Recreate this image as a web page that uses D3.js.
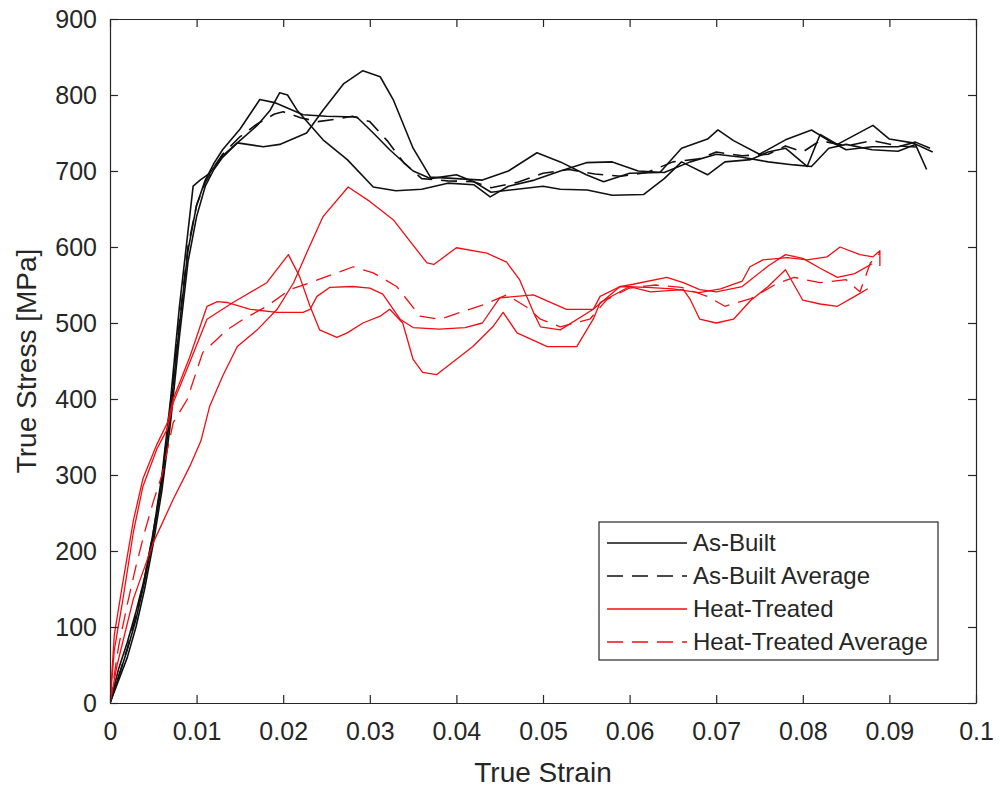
<!DOCTYPE html>
<html>
<head>
<meta charset="utf-8">
<script src="https://cdn.jsdelivr.net/npm/d3@7"></script>
<style>
  body { margin: 0; background: #fff; }
  svg { display: block; font-family: "Liberation Sans", Arial, sans-serif; }
  .axis path, .axis line { stroke: #262626; stroke-width: 1.2; }
  .axis text { fill: #262626; font-size: 25px; }
  .line { fill: none; stroke-linejoin: round; }
</style>
</head>
<body>
<svg id="chart" width="1000" height="788"></svg>
<script>

// [true strain, true stress MPa]
const asBuilt1 = [[0,0],[0.001,45],[0.002,80],[0.003,120],[0.004,165],[0.005,225],[0.006,300],[0.007,400],[0.008,520],[0.009,620],[0.0096,680],[0.0104,688],[0.0115,697],[0.013,720],[0.015,740],[0.017,760],[0.0185,780],[0.0196,803],[0.0205,800],[0.0216,780],[0.0246,741],[0.0274,715],[0.0304,679],[0.033,674],[0.036,676],[0.039,684],[0.042,682],[0.0439,666],[0.046,680],[0.049,688],[0.052,700],[0.055,711],[0.058,712],[0.061,700],[0.064,698],[0.067,712],[0.070,722],[0.073,718],[0.076,712],[0.079,708],[0.081,706],[0.083,730],[0.085,735],[0.088,728],[0.091,726],[0.093,735],[0.0943,702]];

const asBuilt2 = [[0,0],[0.001,30],[0.002,60],[0.003,100],[0.004,150],[0.005,210],[0.006,280],[0.007,370],[0.008,480],[0.009,580],[0.010,640],[0.011,680],[0.012,702],[0.013,718],[0.0147,737],[0.0177,732],[0.0196,735],[0.0227,750],[0.0246,780],[0.027,815],[0.0292,832],[0.0312,824],[0.0327,794],[0.035,730],[0.037,692],[0.040,690],[0.043,688],[0.046,700],[0.0493,724],[0.052,712],[0.055,695],[0.057,686],[0.060,697],[0.0635,698],[0.066,730],[0.069,742],[0.0702,754],[0.072,740],[0.075,722],[0.078,741],[0.081,754],[0.083,740],[0.085,728],[0.088,732],[0.091,732],[0.093,738],[0.0947,730]];

const asBuilt3 = [[0,0],[0.001,35],[0.002,70],[0.003,110],[0.004,160],[0.005,220],[0.006,290],[0.007,385],[0.008,495],[0.009,595],[0.010,655],[0.011,688],[0.012,710],[0.013,728],[0.015,755],[0.0173,794],[0.019,790],[0.0223,774],[0.025,772],[0.0285,771],[0.0304,750],[0.0323,728],[0.035,700],[0.037,690],[0.040,695],[0.042,686],[0.044,672],[0.047,676],[0.050,680],[0.052,676],[0.0551,675],[0.058,668],[0.0616,669],[0.064,690],[0.066,712],[0.069,695],[0.071,712],[0.074,715],[0.076,725],[0.078,730],[0.0805,706],[0.082,748],[0.084,735],[0.0881,760],[0.090,742],[0.0927,737],[0.095,725]];

const asBuiltAvg = [[0,0],[0.001,35],[0.002,72],[0.003,115],[0.004,165],[0.005,225],[0.006,295],[0.007,395],[0.008,500],[0.009,600],[0.010,655],[0.011,685],[0.012,705],[0.013,722],[0.015,745],[0.017,762],[0.019,775],[0.020,778],[0.022,770],[0.024,765],[0.026,768],[0.028,772],[0.030,765],[0.032,740],[0.034,710],[0.036,690],[0.039,687],[0.042,686],[0.044,678],[0.047,685],[0.050,697],[0.053,702],[0.056,696],[0.059,693],[0.062,698],[0.065,712],[0.068,716],[0.070,725],[0.073,720],[0.076,722],[0.078,733],[0.080,725],[0.082,740],[0.085,733],[0.088,740],[0.091,733],[0.094,731]];

const heatTreated1 = [[0,0],[0.0008,49],[0.0027,137],[0.005,211],[0.0073,268],[0.0092,311],[0.0105,345],[0.0115,390],[0.013,430],[0.0147,469],[0.017,491],[0.0193,518],[0.0212,553],[0.0227,592],[0.0246,640],[0.0275,679],[0.030,660],[0.0327,636],[0.0366,579],[0.0374,577],[0.040,599],[0.0435,592],[0.0458,580],[0.0473,557],[0.0489,514],[0.0497,495],[0.052,491],[0.0558,518],[0.0589,548],[0.062,547],[0.065,545],[0.068,540],[0.0705,545],[0.073,555],[0.0739,574],[0.0754,583],[0.0782,586],[0.0805,583],[0.0828,587],[0.0843,600],[0.0866,590],[0.0881,587],[0.0889,595],[0.0889,575]];

const heatTreated2 = [[0,0],[0.0005,70],[0.0015,137],[0.0027,225],[0.0038,285],[0.0054,334],[0.0066,360],[0.0073,395],[0.0092,448],[0.0112,505],[0.0142,527],[0.0181,553],[0.0206,590],[0.0219,561],[0.0231,522],[0.0242,491],[0.0262,481],[0.0274,487],[0.0292,500],[0.0312,509],[0.0323,518],[0.0338,500],[0.035,452],[0.0361,435],[0.0377,432],[0.0419,469],[0.0442,495],[0.0454,514],[0.047,487],[0.0505,469],[0.0539,469],[0.0558,505],[0.0566,527],[0.060,548],[0.0624,541],[0.0662,544],[0.067,531],[0.0681,505],[0.070,500],[0.072,505],[0.074,530],[0.076,548],[0.078,570],[0.080,530],[0.082,525],[0.084,522],[0.086,535],[0.0875,545]];

const heatTreated3 = [[0,0],[0.0005,90],[0.0015,160],[0.0027,240],[0.0038,295],[0.0054,340],[0.0066,368],[0.0073,400],[0.0092,455],[0.0112,522],[0.0124,528],[0.0135,527],[0.0162,518],[0.0193,514],[0.0223,514],[0.0231,518],[0.0239,535],[0.0254,547],[0.028,548],[0.030,546],[0.0315,538],[0.0335,505],[0.035,494],[0.038,492],[0.041,494],[0.043,500],[0.045,533],[0.0489,537],[0.0527,518],[0.0558,518],[0.0566,535],[0.0589,548],[0.0604,551],[0.0643,560],[0.0662,553],[0.0681,544],[0.070,541],[0.073,548],[0.076,575],[0.078,590],[0.080,585],[0.082,572],[0.084,560],[0.086,565],[0.088,578]];

const heatTreatedAvg = [[0,0],[0.001,75],[0.002,130],[0.003,180],[0.004,225],[0.005,265],[0.006,300],[0.0073,369],[0.0089,399],[0.0107,461],[0.0135,491],[0.0154,505],[0.0181,522],[0.0208,544],[0.0231,553],[0.0281,574],[0.0304,566],[0.0331,548],[0.0358,509],[0.0381,505],[0.0431,524],[0.0458,537],[0.0481,521],[0.0497,505],[0.052,495],[0.0554,505],[0.0574,531],[0.060,546],[0.063,550],[0.066,547],[0.069,535],[0.071,522],[0.074,532],[0.077,552],[0.079,560],[0.082,553],[0.085,557],[0.0866,541],[0.0878,579],[0.0889,592]];

const xTicks = [0, 0.01, 0.02, 0.03, 0.04, 0.05, 0.06, 0.07, 0.08, 0.09, 0.1];
const yTicks = [0, 100, 200, 300, 400, 500, 600, 700, 800, 900];

const legendLabels = ["As-Built", "As-Built Average", "Heat-Treated", "Heat-Treated Average"];

const stressChart = function(){

    const render = function(target_id){
        let svg = d3.select('#'+target_id);
        let left = 110, right = 976, top = 19, bottom = 703;

        var xScale = d3.scaleLinear().domain([0, 0.1]).range([left, right]);
        var yScale = d3.scaleLinear().domain([0, 900]).range([bottom, top]);

        svg.append("rect").attr("width", 1000).attr("height", 788).attr("fill", "#fff");

        svg.append("clipPath").attr("id", "plotclip")
            .append("rect")
            .attr("x", left).attr("y", top)
            .attr("width", right - left).attr("height", bottom - top);

        var dline = d3.line()
            .x(function(d){ return xScale(d[0]) })
            .y(function(d){ return yScale(d[1]) });

        let series = [
            {data: asBuilt1, color: "#111", dash: null},
            {data: asBuilt2, color: "#111", dash: null},
            {data: asBuilt3, color: "#111", dash: null},
            {data: asBuiltAvg, color: "#111", dash: "16,9"},
            {data: heatTreated1, color: "#f20d12", dash: null},
            {data: heatTreated2, color: "#f20d12", dash: null},
            {data: heatTreated3, color: "#f20d12", dash: null},
            {data: heatTreatedAvg, color: "#f20d12", dash: "16,9"}
        ];

        let g = svg.append("g").attr("clip-path", "url(#plotclip)");
        series.forEach(function(s){
            g.append("path")
                .datum(s.data)
                .attr("class", "line")
                .attr("stroke", s.color)
                .attr("stroke-width", s.color === "#111" ? 1.6 : 1.3)
                .attr("stroke-dasharray", s.dash)
                .attr("d", dline);
        });

        // box with inward ticks, like matlab
        let fmt = d3.format("~g");
        svg.append("g").attr("class", "axis")
            .attr("transform", "translate(0," + bottom + ")")
            .call(d3.axisBottom(xScale).tickValues(xTicks).tickFormat(fmt).tickSizeInner(-8).tickSizeOuter(0).tickPadding(19));
        svg.append("g").attr("class", "axis")
            .attr("transform", "translate(0," + top + ")")
            .call(d3.axisTop(xScale).tickValues(xTicks).tickFormat("").tickSizeInner(-8).tickSizeOuter(0));
        svg.append("g").attr("class", "axis")
            .attr("transform", "translate(" + left + ",0)")
            .call(d3.axisLeft(yScale).tickValues(yTicks).tickSizeInner(-8).tickSizeOuter(0).tickPadding(13));
        svg.append("g").attr("class", "axis")
            .attr("transform", "translate(" + right + ",0)")
            .call(d3.axisRight(yScale).tickValues(yTicks).tickFormat("").tickSizeInner(-8).tickSizeOuter(0));

        svg.append("text")
            .attr("x", (left + right) / 2).attr("y", 782)
            .attr("text-anchor", "middle")
            .attr("font-size", 28).attr("fill", "#262626")
            .text("True Strain");

        svg.append("text")
            .attr("transform", "translate(36," + (top + bottom) / 2 + ") rotate(-90)")
            .attr("text-anchor", "middle")
            .attr("font-size", 28).attr("fill", "#262626")
            .text("True Stress [MPa]");

        // legend
        let lg = svg.append("g").attr("transform", "translate(599,522)");
        lg.append("rect")
            .attr("width", 339).attr("height", 138)
            .attr("fill", "#fff").attr("stroke", "#262626").attr("stroke-width", 1.2);
        let styles = [["#111", null], ["#111", "16,9"], ["#f20d12", null], ["#f20d12", "16,9"]];
        legendLabels.forEach(function(label, i){
            let y = 21 + i * 33;
            lg.append("line")
                .attr("x1", 8).attr("x2", 88).attr("y1", y).attr("y2", y)
                .attr("stroke", styles[i][0])
                .attr("stroke-width", i < 2 ? 1.6 : 1.3)
                .attr("stroke-dasharray", styles[i][1]);
            lg.append("text")
                .attr("x", 94).attr("y", y + 8)
                .attr("font-size", 24).attr("fill", "#262626")
                .text(label);
        });
    };

    return {
        render: render
    }

}();

stressChart.render("chart");

</script>
</body>
</html>
